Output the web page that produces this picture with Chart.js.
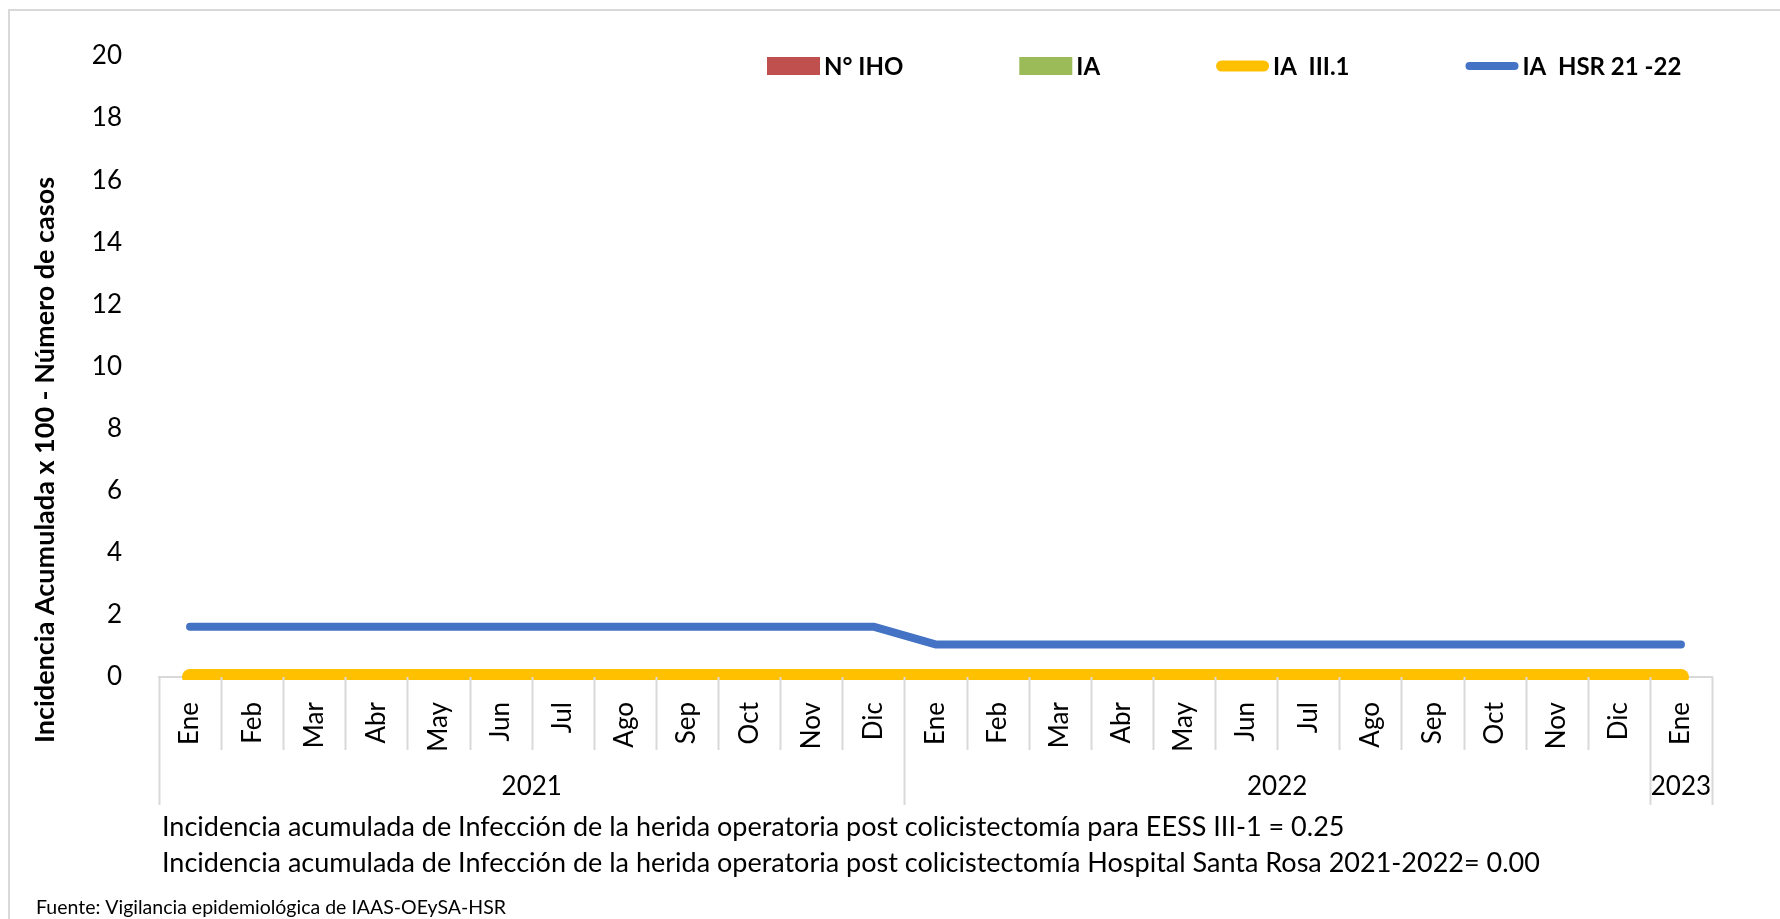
<!DOCTYPE html>
<html>
<head>
<meta charset="utf-8">
<title>IHO post colicistectomía</title>
<script src="https://cdn.jsdelivr.net/npm/chart.js@4.4.1/dist/chart.umd.min.js"></script>
<style>
  html, body { margin: 0; padding: 0; background: #fff; }
  #grafico { display: block; }
</style>
</head>
<body>
<canvas id="grafico" width="1780" height="919"></canvas>
<script>
// Datos
const meses = ['Ene', 'Feb', 'Mar', 'Abr', 'May', 'Jun', 'Jul', 'Ago', 'Sep', 'Oct', 'Nov', 'Dic',
  'Ene', 'Feb', 'Mar', 'Abr', 'May', 'Jun', 'Jul', 'Ago', 'Sep', 'Oct', 'Nov', 'Dic', 'Ene'];
const anios = ['2021', '2022', '2023'];
const mesesPorAnio = [12, 12, 1];

const nIHO = [0, 0, 0, 0, 0, 0, 0, 0, 0, 0, 0, 0, 0, 0, 0, 0, 0, 0, 0, 0, 0, 0, 0, 0, 0];
const ia = [0, 0, 0, 0, 0, 0, 0, 0, 0, 0, 0, 0, 0, 0, 0, 0, 0, 0, 0, 0, 0, 0, 0, 0, 0];
const iaIII1 = [0, 0, 0, 0, 0, 0, 0, 0, 0, 0, 0, 0, 0, 0, 0, 0, 0, 0, 0, 0, 0, 0, 0, 0, 0];
const iaHSR = [1.62, 1.62, 1.62, 1.62, 1.62, 1.62, 1.62, 1.62, 1.62, 1.62, 1.62, 1.62,
  1.05, 1.05, 1.05, 1.05, 1.05, 1.05, 1.05, 1.05, 1.05, 1.05, 1.05, 1.05, 1.05];

const yMin = 0;
const yMax = 20;
const yPaso = 2;

const tituloY = 'Incidencia Acumulada x 100 - Número de casos';
const notas = [
  'Incidencia acumulada de Infección de la herida operatoria post colicistectomía para EESS III-1 = 0.25',
  'Incidencia acumulada de Infección de la herida operatoria post colicistectomía Hospital Santa Rosa 2021-2022= 0.00'
];
const fuente = 'Fuente: Vigilancia epidemiológica de IAAS-OEySA-HSR';

const FUENTE = 'Lato, "Open Sans", sans-serif';
const GRIS = '#d9d9d9';

// marco del gráfico (solo se ve borde izquierdo y superior)
const marco = {
  id: 'marco',
  beforeDraw(chart) {
    const ctx = chart.ctx;
    ctx.save();
    ctx.strokeStyle = GRIS;
    ctx.lineWidth = 2;
    ctx.beginPath();
    ctx.moveTo(9, chart.height);
    ctx.lineTo(9, 10);
    ctx.lineTo(chart.width, 10);
    ctx.stroke();
    ctx.restore();
  }
};

// separadores del eje de categorías y etiquetas de año
const ejeAnios = {
  id: 'ejeAnios',
  afterDraw(chart) {
    const ctx = chart.ctx;
    const xs = chart.scales.x;
    const arriba = xs.top;
    ctx.save();
    ctx.strokeStyle = GRIS;
    ctx.lineWidth = 2;

    const limites = [0];
    let acum = 0;
    mesesPorAnio.forEach(n => { acum += n; limites.push(acum); });

    for (let i = 0; i <= meses.length; i++) {
      const px = Math.round(xs.getPixelForValue(i - 0.5)) + 0.5;
      const largo = limites.includes(i) ? 128 : 73;
      ctx.beginPath();
      ctx.moveTo(px, arriba);
      ctx.lineTo(px, arriba + largo);
      ctx.stroke();
    }

    ctx.fillStyle = '#000';
    ctx.font = '26px ' + FUENTE;
    ctx.textAlign = 'center';
    ctx.textBaseline = 'middle';
    anios.forEach((a, k) => {
      const centro = limites[k] + (mesesPorAnio[k] - 1) / 2;
      ctx.fillText(a, xs.getPixelForValue(centro), arriba + 110);
    });
    ctx.restore();
  }
};

// leyenda, título del eje y notas
const textos = {
  id: 'textos',
  afterDraw(chart) {
    const ctx = chart.ctx;
    ctx.save();

    // leyenda
    ctx.font = 'bold 24px ' + FUENTE;
    ctx.textBaseline = 'middle';
    ctx.textAlign = 'left';
    let x = 767;
    const y = 66;
    chart.data.datasets.forEach(ds => {
      if (ds.type === 'line') {
        const w = ds.anchoLeyenda;
        ctx.strokeStyle = ds.borderColor;
        ctx.lineWidth = w;
        ctx.lineCap = 'round';
        ctx.beginPath();
        ctx.moveTo(x + w / 2, y);
        ctx.lineTo(x + 53 - w / 2, y);
        ctx.stroke();
      } else {
        ctx.fillStyle = ds.backgroundColor;
        ctx.fillRect(x, y - 9, 53, 18);
      }
      x += 57;
      ctx.fillStyle = '#000';
      ctx.fillText(ds.label, x, y + 1);
      x += ctx.measureText(ds.label).width + 116;
    });

    // título eje Y
    ctx.save();
    ctx.translate(45, 460);
    ctx.rotate(-Math.PI / 2);
    ctx.textAlign = 'center';
    ctx.font = 'bold 27px ' + FUENTE;
    ctx.fillText(tituloY, 0, 0);
    ctx.restore();

    // notas al pie
    ctx.textBaseline = 'alphabetic';
    ctx.textAlign = 'left';
    ctx.font = '27px ' + FUENTE;
    ctx.fillText(notas[0], 162, 836);
    ctx.fillText(notas[1], 162, 872);
    ctx.font = '19.5px ' + FUENTE;
    ctx.fillText(fuente, 36, 914);
    ctx.restore();
  }
};

const ctx = document.getElementById('grafico').getContext('2d');
new Chart(ctx, {
  type: 'bar',
  data: {
    labels: meses,
    datasets: [
      { type: 'bar', label: 'N° IHO', data: nIHO, backgroundColor: '#C0504D' },
      { type: 'bar', label: 'IA', data: ia, backgroundColor: '#9BBB59' },
      {
        type: 'line', label: 'IA  III.1', data: iaIII1,
        borderColor: '#FFC000', borderWidth: 16, anchoLeyenda: 11,
        borderCapStyle: 'round', borderJoinStyle: 'round',
        pointRadius: 0, tension: 0,
        clip: { left: 20, top: 20, right: 20, bottom: 3 }
      },
      {
        type: 'line', label: 'IA  HSR 21 -22', data: iaHSR,
        borderColor: '#4472C4', borderWidth: 8, anchoLeyenda: 8,
        borderCapStyle: 'round', borderJoinStyle: 'round',
        pointRadius: 0, tension: 0
      }
    ]
  },
  options: {
    responsive: false,
    animation: false,
    devicePixelRatio: 1,
    layout: { padding: { top: 56, right: 68, left: 0, bottom: 0 } },
    plugins: {
      legend: { display: false },
      tooltip: { enabled: false }
    },
    scales: {
      x: {
        offset: true,
        grid: { display: false },
        border: { display: true, color: GRIS, width: 2 },
        ticks: {
          autoSkip: false,
          minRotation: 90,
          maxRotation: 90,
          padding: 17,
          color: '#000',
          font: { family: FUENTE, size: 26 }
        },
        afterFit(s) { s.height = 242; }
      },
      y: {
        min: yMin,
        max: yMax,
        grid: { display: false },
        border: { display: false },
        ticks: {
          stepSize: yPaso,
          padding: 29,
          color: '#000',
          font: { family: FUENTE, size: 26 }
        },
        afterFit(s) { s.width = 159; }
      }
    }
  },
  plugins: [marco, ejeAnios, textos]
});
</script>
</body>
</html>
